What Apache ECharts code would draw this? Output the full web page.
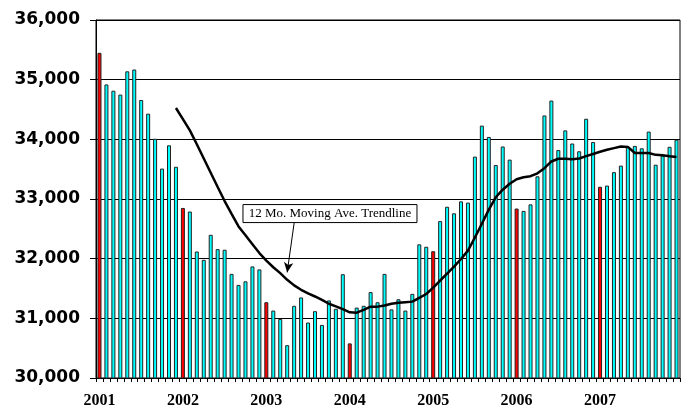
<!DOCTYPE html>
<html>
<head>
<meta charset="utf-8">
<script src="https://cdn.jsdelivr.net/npm/echarts@6/dist/echarts.min.js"></script>
<style>
  html, body { margin: 0; padding: 0; background: #fff; }
  #chart { width: 681px; height: 410px; }
</style>
</head>
<body>
<div id="chart"></div>
<script>
// monthly values 2001-2007
const years = ['2001', '2002', '2003', '2004', '2005', '2006', '2007'];
const months = ['01', '02', '03', '04', '05', '06', '07', '08', '09', '10', '11', '12'];
const categories = years.flatMap(y => months.map(m => y + '-' + m));

const monthly = [
  35450, 34920, 34815, 34750, 35140, 35170, 34660, 34430, 34010, 33510, 33900, 33540,
  32850, 32790, 32120, 31980, 32400, 32160, 32150, 31745, 31560, 31620, 31870, 31820,
  31270, 31130, 30990, 30550, 31210, 31350, 30930, 31120, 30890, 31300, 31160, 31740,
  30580, 31180, 31210, 31440, 31270, 31745, 31150, 31320, 31130, 31410, 32240, 32200,
  32125, 32630, 32870, 32760, 32960, 32940, 33710, 34230, 34040, 33570, 33880, 33660,
  32840, 32800, 32910, 33380, 34400, 34650, 33820, 34150, 33930, 33800, 34345, 33955,
  33205, 33225, 33450, 33560, 33870, 33890, 33850, 34130, 33575, 33725, 33875, 33995
];

// 12 month moving average line, starts at Dec 2001
const movingAvg = [
  null, null, null, null, null, null, null, null, null, null, null,
  34525, 34340, 34150, 33918, 33680, 33440, 33200, 32966, 32752, 32540,
  32391, 32242, 32094, 31968, 31856, 31757, 31645, 31552, 31478, 31417,
  31366, 31309, 31244, 31200, 31153, 31100, 31095, 31143, 31196, 31196,
  31214, 31244, 31260, 31270, 31280, 31344, 31408, 31515, 31634, 31749,
  31866, 31994, 32134, 32355, 32586, 32822, 33029, 33156, 33256, 33330,
  33364, 33383, 33431, 33517, 33629, 33674, 33674, 33668, 33678, 33718,
  33755, 33792, 33825, 33853, 33881, 33873, 33770, 33770, 33770, 33740,
  33732, 33718, 33705
];

const yTicks = [30000, 31000, 32000, 33000, 34000, 35000, 36000];

const chart = echarts.init(document.getElementById('chart'));

const option = {
  animation: false,
  backgroundColor: '#fff',
  grid: {
    left: 96, right: 1, top: 20, bottom: 32,
    show: true, borderColor: '#000', borderWidth: 1
  },
  xAxis: {
    type: 'category',
    data: categories,
    boundaryGap: true,
    axisLine: { show: true, lineStyle: { color: '#000', width: 1 } },
    axisTick: { show: true, interval: 0, length: 4, lineStyle: { color: '#000' } },
    axisLabel: {
      interval: idx => idx % 12 === 0,
      formatter: v => v.slice(0, 4),
      margin: 15,
      fontFamily: 'Liberation Serif',
      fontWeight: 'bold',
      fontSize: 16,
      color: '#000'
    },
    splitLine: { show: false }
  },
  yAxis: {
    type: 'value',
    min: yTicks[0],
    max: yTicks[yTicks.length - 1],
    interval: 1000,
    axisLine: { show: true, lineStyle: { color: '#000', width: 1 } },
    axisTick: { show: true, length: 6, lineStyle: { color: '#000' } },
    axisLabel: {
      formatter: v => v.toLocaleString('en-US'),
      margin: 16,
      fontFamily: 'DejaVu Sans',
      fontWeight: 'bold',
      fontSize: 17,
      color: '#000'
    },
    splitLine: { show: true, lineStyle: { color: '#000', width: 1 } }
  },
  series: [
    {
      type: 'bar',
      data: monthly,
      barWidth: 4,
      itemStyle: {
        color: p => (p.dataIndex % 12 === 0 ? '#ff0000' : '#00ffff'),
        borderColor: '#222',
        borderWidth: 1
      }
    },
    {
      type: 'line',
      data: movingAvg,
      symbol: 'none',
      connectNulls: false,
      lineStyle: { color: '#000', width: 2.5 },
      markLine: {
        silent: true,
        symbol: ['none', 'arrow'],
        symbolSize: [7, 10],
        label: { show: false },
        lineStyle: { color: '#000', width: 1, type: 'solid' },
        data: [[{ coord: [28, 32600] }, { coord: [27.2, 31770] }]]
      }
    }
  ]
};

chart.setOption(option);

// annotation box, anchored in data space
const boxTopLeft = chart.convertToPixel({ gridIndex: 0 }, [21, 32915]);
chart.setOption({
  graphic: [{
    type: 'group',
    left: boxTopLeft[0] - 3,
    top: boxTopLeft[1],
    children: [
      { type: 'rect', shape: { x: 0, y: 0, width: 174, height: 18 },
        style: { fill: '#fff', stroke: '#000', lineWidth: 1 } },
      { type: 'text', x: 87, y: 9,
        style: { text: '12 Mo. Moving Ave. Trendline', fill: '#000',
                 font: '13px "Liberation Serif"', align: 'center', verticalAlign: 'middle' } }
    ]
  }]
});
</script>
</body>
</html>
